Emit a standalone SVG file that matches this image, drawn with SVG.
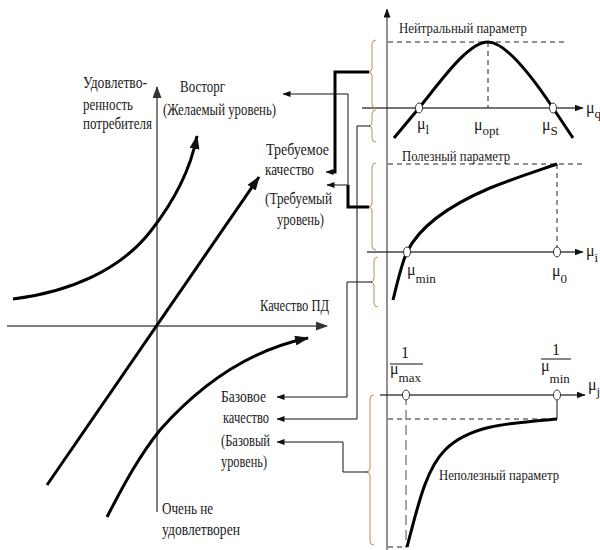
<svg xmlns="http://www.w3.org/2000/svg" width="600" height="550" viewBox="0 0 600 550">
<defs>
<marker id="a" markerUnits="userSpaceOnUse" markerWidth="8" markerHeight="6" refX="7.5" refY="3" orient="auto"><path d="M0,0 L8,3 L0,6 z" fill="#111"/></marker>
<marker id="b" markerUnits="userSpaceOnUse" markerWidth="14" markerHeight="10" refX="13" refY="5" orient="auto"><path d="M0,0 L14,5 L0,10 z" fill="#111"/></marker>
<marker id="g" markerUnits="userSpaceOnUse" markerWidth="12" markerHeight="9" refX="11" refY="4.5" orient="auto"><path d="M0,0 L12,4.5 L0,9 z" fill="#333"/></marker>
<marker id="k" markerUnits="userSpaceOnUse" markerWidth="9" markerHeight="7" refX="8.5" refY="3.5" orient="auto"><path d="M0,0 L9,3.5 L0,7 z" fill="#111"/></marker>
</defs>
<style>
text{font-family:"Liberation Serif","Times New Roman",serif;fill:#1a1a1a}
.t{font-size:16px}
.h{font-size:15px}
.m{font-size:16px}
.s{font-size:13px}
.ax{stroke:#555;stroke-width:1.5;fill:none}
.rax{stroke:#444;stroke-width:1.5;fill:none}
.thk{stroke:#000;stroke-width:3;fill:none}
.thin{stroke:#111;stroke-width:1;fill:none}
.dash{stroke:#222;stroke-width:1;stroke-dasharray:5 4;fill:none}
.gdash{stroke:#888;stroke-width:1.5;stroke-dasharray:10 5;fill:none}
.br{stroke:#b8905a;stroke-width:1;fill:none}
.pt{fill:#fff;stroke:#333;stroke-width:1}
</style>

<g id="left-chart">
<line class="ax" x1="7" y1="326" x2="327" y2="326" marker-end="url(#g)"/>
<line class="ax" x1="157" y1="512" x2="157" y2="87" marker-end="url(#g)"/>
<path class="thk" d="M13 299 C70 292,120 270,150 232 S192 162,197 136" marker-end="url(#b)"/>
<path class="thk" d="M47 485 L259 177" marker-end="url(#b)"/>
<path class="thk" d="M107 517 C125 482,140 455,160 430 C200 385,250 350,308 338" marker-end="url(#b)"/>
</g>

<g id="neutral-chart">
<line class="rax" x1="362" y1="108" x2="583" y2="108" marker-end="url(#k)"/>
<line class="dash" x1="388" y1="42" x2="567" y2="42"/>
<line class="dash" x1="488" y1="42" x2="488" y2="108"/>
<path class="thk" d="M394 138 L419 108 C441 81,468 42,488 42 C507 42,535 81,553 108 L573 138"/>
<ellipse class="pt" cx="419" cy="108" rx="3.5" ry="5"/>
<ellipse class="pt" cx="553" cy="108" rx="3.5" ry="5"/>
</g>

<g id="useful-chart">
<line class="rax" x1="367" y1="252" x2="583" y2="252" marker-end="url(#k)"/>
<line class="dash" x1="388" y1="164" x2="583" y2="164"/>
<line class="dash" x1="557" y1="164" x2="557" y2="252"/>
<path class="thk" d="M393 300 C398 280,402 262,407 252 C420 225,450 205,490 188 C520 176,540 170,557 164"/>
<ellipse class="pt" cx="407" cy="252" rx="3.5" ry="5"/>
<ellipse class="pt" cx="557" cy="252" rx="3.5" ry="5"/>
</g>

<g id="useless-chart">
<line class="rax" x1="380" y1="395" x2="585" y2="395" marker-end="url(#k)"/>
<line class="dash" x1="388" y1="419" x2="557" y2="419"/>
<line class="thin" x1="557" y1="395" x2="557" y2="419"/>
<line class="gdash" x1="406" y1="395" x2="406" y2="548"/>
<line class="dash" x1="388" y1="547" x2="406" y2="547"/>
<path class="thk" d="M407 547 C417 510,425 470,445 450 C470 425,510 423,557 419"/>
<ellipse class="pt" cx="406" cy="395" rx="3.5" ry="5"/>
<ellipse class="pt" cx="557" cy="395" rx="3.5" ry="5"/>
<line class="thin" x1="390" y1="364" x2="423" y2="364"/>
<line class="thin" x1="541" y1="359" x2="571" y2="359"/>
</g>

<line id="main-axis" x1="387" y1="550" x2="387" y2="9" stroke="#222" stroke-width="1" marker-end="url(#k)"/>

<g id="braces">
<path class="br" d="M376 40 Q372 40 372 44 L372 68 Q372 72 368 72 Q372 72 372 76 L372 104 Q372 108 376 108"/>
<path class="br" d="M376 110 Q372 110 372 114 L372 122 Q372 126 369 126 Q372 126 372 130 L372 138 Q372 142 376 142"/>
<path class="br" d="M376 163 Q372 163 372 167 L372 203 Q372 207 368 207 Q372 207 372 211 L372 246 Q372 250 376 250"/>
<path class="br" d="M378 257 Q374 257 374 261 L374 278 Q374 282 371 282 Q374 282 374 286 L374 303 Q374 307 378 307"/>
<path class="br" d="M374 395 Q370 395 370 399 L370 468 Q370 472 367 472 Q370 472 370 476 L370 541 Q370 545 374 545"/>
</g>

<g id="connectors">
<path class="thk" d="M369 72 H335 V172 H331"/>
<line class="thin" x1="332" y1="172" x2="326" y2="172" marker-end="url(#a)"/>
<path class="thk" d="M369 207 H348 V185"/>
<path class="thin" d="M348 186 V94 H283" marker-end="url(#a)"/>
<path class="thin" d="M348 185 H327" marker-end="url(#a)"/>
<path class="thin" d="M370 126 H357 V419 H277" marker-end="url(#a)"/>
<path class="thin" d="M372 282 H347 V397 H277" marker-end="url(#a)"/>
<path class="thin" d="M368 472 H343 V442 H277" marker-end="url(#a)"/>
</g>

<g id="labels-left">
<text class="t" x="83" y="88" textLength="64" lengthAdjust="spacingAndGlyphs">Удовлетво-</text>
<text class="t" x="83" y="110" textLength="50" lengthAdjust="spacingAndGlyphs">ренность</text>
<text class="t" x="83" y="129" textLength="69" lengthAdjust="spacingAndGlyphs">потребителя</text>
<text class="t" x="180" y="92" textLength="45" lengthAdjust="spacingAndGlyphs">Восторг</text>
<text class="t" x="163" y="115" textLength="113" lengthAdjust="spacingAndGlyphs">(Желаемый уровень)</text>
<text class="t" x="266" y="155" textLength="63" lengthAdjust="spacingAndGlyphs">Требуемое</text>
<text class="t" x="265" y="175" textLength="49" lengthAdjust="spacingAndGlyphs">качество</text>
<text class="t" x="265" y="204" textLength="67" lengthAdjust="spacingAndGlyphs">(Требуемый</text>
<text class="t" x="277" y="225" textLength="47" lengthAdjust="spacingAndGlyphs">уровень)</text>
<text class="t" x="260" y="311" textLength="69" lengthAdjust="spacingAndGlyphs">Качество ПД</text>
<text class="t" x="221" y="402" textLength="45" lengthAdjust="spacingAndGlyphs">Базовое</text>
<text class="t" x="223" y="423" textLength="46" lengthAdjust="spacingAndGlyphs">качество</text>
<text class="t" x="221" y="446" textLength="49" lengthAdjust="spacingAndGlyphs">(Базовый</text>
<text class="t" x="221" y="467" textLength="46" lengthAdjust="spacingAndGlyphs">уровень)</text>
<text class="t" x="162" y="514" textLength="51" lengthAdjust="spacingAndGlyphs">Очень не</text>
<text class="t" x="162" y="535" textLength="78" lengthAdjust="spacingAndGlyphs">удовлетворен</text>
</g>

<g id="labels-right">
<text class="h" x="399" y="33" textLength="128" lengthAdjust="spacingAndGlyphs">Нейтральный параметр</text>
<text class="h" x="402" y="161" textLength="108" lengthAdjust="spacingAndGlyphs">Полезный параметр</text>
<text class="h" x="439" y="480" textLength="120" lengthAdjust="spacingAndGlyphs">Неполезный параметр</text>
<text class="m" x="417" y="129">μ<tspan class="s" dy="5">l</tspan></text>
<text class="m" x="474" y="130">μ<tspan class="s" dy="5">opt</tspan></text>
<text class="m" x="542" y="130">μ<tspan class="s" dy="5">S</tspan></text>
<text class="m" x="586" y="113">μ<tspan class="s" dy="5">q</tspan></text>
<text class="m" x="407" y="275">μ<tspan class="s" dy="8">min</tspan></text>
<text class="m" x="552" y="276">μ<tspan class="s" dy="7">0</tspan></text>
<text class="m" x="586" y="256">μ<tspan class="s" dy="6">i</tspan></text>
<text class="m" x="401" y="358">1</text>
<text class="m" x="390" y="374">μ<tspan class="s" dy="8">max</tspan></text>
<text class="m" x="552" y="355">1</text>
<text class="m" x="541" y="371">μ<tspan class="s" dy="12">min</tspan></text>
<text class="m" x="588" y="390">μ<tspan class="s" dy="6">j</tspan></text>
</g>
</svg>
